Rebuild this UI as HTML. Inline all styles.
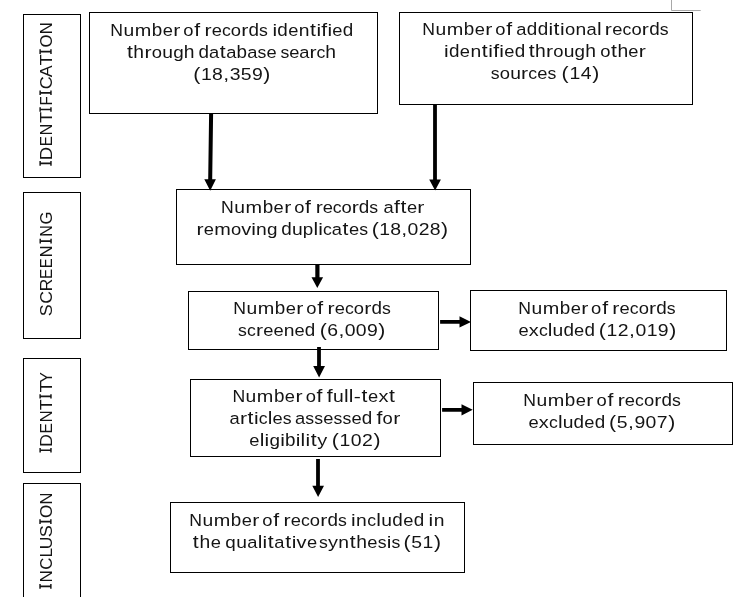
<!DOCTYPE html><html><head><meta charset="utf-8"><style>html,body{margin:0;padding:0;background:#fff;overflow:hidden}svg{display:block;will-change:transform}text{font-family:"Liberation Sans", sans-serif;font-size:17.0px;fill:#141414}</style></head><body>
<svg width="745" height="597" viewBox="0 0 745 597">
<rect width="745" height="597" fill="#fff"/>
<path d="M671.5 0V10.5H700.7" fill="none" stroke="#a8a8a8" stroke-width="1"/>
<rect x="89.5" y="12.5" width="288" height="101" fill="none" stroke="#000"/>
<rect x="399.5" y="12.5" width="293" height="92" fill="none" stroke="#000"/>
<rect x="176.5" y="189.5" width="294" height="75" fill="none" stroke="#000"/>
<rect x="188.5" y="291.5" width="250" height="58" fill="none" stroke="#000"/>
<rect x="470.5" y="290.5" width="256" height="60" fill="none" stroke="#000"/>
<rect x="190.5" y="379.5" width="250" height="77" fill="none" stroke="#000"/>
<rect x="473.5" y="382.5" width="259" height="62" fill="none" stroke="#000"/>
<rect x="170.5" y="502.5" width="294" height="70" fill="none" stroke="#000"/>
<rect x="23.5" y="14.5" width="57" height="163" fill="none" stroke="#000"/>
<rect x="23.5" y="192.5" width="57" height="146" fill="none" stroke="#000"/>
<rect x="23.5" y="358.5" width="57" height="114" fill="none" stroke="#000"/>
<rect x="23.5" y="483.5" width="57" height="127" fill="none" stroke="#000"/>
<polygon points="209.1,114 213.1,114 212.2,179.2 215.9,179.2 210.2,190.7 204.3,179.2 208.2,179.2"/>
<polygon points="433.1,105 436.9,105 436.9,179.5 440.9,179.5 435.1,190.4 429.2,179.5 433.1,179.5"/>
<polygon points="315.3,264.5 319.5,264.5 319.5,277.2 323.1,277.2 317.3,288 311.5,277.2 315.3,277.2"/>
<polygon points="317.1,347 320.9,347 320.9,366.1 325,366.1 319.1,377.5 313.2,366.1 317.1,366.1"/>
<polygon points="316.1,459.1 319.9,459.1 319.9,485.7 324,485.7 318.1,497 312.3,485.7 316.1,485.7"/>
<polygon points="440.1,320.1 459.5,320.1 459.5,316.2 471,322 459.5,327.6 459.5,323.7 440.1,323.7"/>
<polygon points="442.1,408.1 461.5,408.1 461.5,404.2 472.7,409.8 461.5,415.6 461.5,411.7 442.1,411.7"/>
<g id="w0_0"><text x="110.24" y="36.00" textLength="12.72" lengthAdjust="spacingAndGlyphs">N</text><text transform="matrix(1,0,0,1.02,0,36)" x="123.43" textLength="10.72" lengthAdjust="spacingAndGlyphs">u</text><text transform="matrix(1,0,0,1.02,0,36)" x="134.70" textLength="16.54" lengthAdjust="spacingAndGlyphs">m</text><text transform="matrix(1,0,0,1.06,0,36)" x="151.79" textLength="10.49" lengthAdjust="spacingAndGlyphs">b</text><text transform="matrix(1,0,0,1.02,0,36)" x="162.68" textLength="10.19" lengthAdjust="spacingAndGlyphs">e</text><text transform="matrix(1,0,0,1.02,0,36)" x="173.34" textLength="7.08" lengthAdjust="spacingAndGlyphs">r</text></g>
<g id="w0_1"><text transform="matrix(1,0,0,1.02,0,36)" x="183.27" textLength="10.23" lengthAdjust="spacingAndGlyphs">o</text><text transform="matrix(1,0,0,1.06,0,36)" x="194.32" textLength="5.90" lengthAdjust="spacingAndGlyphs">f</text></g>
<g id="w0_2"><text transform="matrix(1,0,0,1.02,0,36)" x="204.55" textLength="7.08" lengthAdjust="spacingAndGlyphs">r</text><text transform="matrix(1,0,0,1.02,0,36)" x="211.75" textLength="10.19" lengthAdjust="spacingAndGlyphs">e</text><text transform="matrix(1,0,0,1.02,0,36)" x="222.00" textLength="8.81" lengthAdjust="spacingAndGlyphs">c</text><text transform="matrix(1,0,0,1.02,0,36)" x="230.86" textLength="10.23" lengthAdjust="spacingAndGlyphs">o</text><text transform="matrix(1,0,0,1.02,0,36)" x="241.26" textLength="7.08" lengthAdjust="spacingAndGlyphs">r</text><text transform="matrix(1,0,0,1.06,0,36)" x="248.46" textLength="10.49" lengthAdjust="spacingAndGlyphs">d</text><text transform="matrix(1,0,0,1.02,0,36)" x="259.02" textLength="8.84" lengthAdjust="spacingAndGlyphs">s</text></g>
<g id="w0_3"><text transform="matrix(1,0,0,1.02,0,36)" x="272.52" textLength="4.64" lengthAdjust="spacingAndGlyphs">i</text><text transform="matrix(1,0,0,1.06,0,36)" x="277.38" textLength="10.49" lengthAdjust="spacingAndGlyphs">d</text><text transform="matrix(1,0,0,1.02,0,36)" x="288.18" textLength="10.19" lengthAdjust="spacingAndGlyphs">e</text><text transform="matrix(1,0,0,1.02,0,36)" x="298.67" textLength="10.72" lengthAdjust="spacingAndGlyphs">n</text><text transform="matrix(1,0,0,1.04,0,36)" x="310.06" textLength="5.90" lengthAdjust="spacingAndGlyphs">t</text><text transform="matrix(1,0,0,1.02,0,36)" x="316.52" textLength="4.64" lengthAdjust="spacingAndGlyphs">i</text><text transform="matrix(1,0,0,1.06,0,36)" x="321.36" textLength="5.90" lengthAdjust="spacingAndGlyphs">f</text><text transform="matrix(1,0,0,1.02,0,36)" x="327.44" textLength="4.64" lengthAdjust="spacingAndGlyphs">i</text><text transform="matrix(1,0,0,1.02,0,36)" x="332.30" textLength="10.19" lengthAdjust="spacingAndGlyphs">e</text><text transform="matrix(1,0,0,1.06,0,36)" x="342.78" textLength="10.49" lengthAdjust="spacingAndGlyphs">d</text></g>
<g id="w1_0"><text transform="matrix(1,0,0,1.04,0,58)" x="126.90" textLength="5.90" lengthAdjust="spacingAndGlyphs">t</text><text transform="matrix(1,0,0,1.06,0,58)" x="133.37" textLength="10.72" lengthAdjust="spacingAndGlyphs">h</text><text transform="matrix(1,0,0,1.02,0,58)" x="144.40" textLength="7.08" lengthAdjust="spacingAndGlyphs">r</text><text transform="matrix(1,0,0,1.02,0,58)" x="151.73" textLength="10.23" lengthAdjust="spacingAndGlyphs">o</text><text transform="matrix(1,0,0,1.02,0,58)" x="162.19" textLength="10.72" lengthAdjust="spacingAndGlyphs">u</text><text transform="matrix(1,0,0,1.02,0,58)" x="173.14" textLength="10.49" lengthAdjust="spacingAndGlyphs">g</text><text transform="matrix(1,0,0,1.06,0,58)" x="183.86" textLength="10.72" lengthAdjust="spacingAndGlyphs">h</text></g>
<g id="w1_1"><text transform="matrix(1,0,0,1.06,0,58)" x="198.45" textLength="10.49" lengthAdjust="spacingAndGlyphs">d</text><text transform="matrix(1,0,0,1.02,0,58)" x="209.12" textLength="10.19" lengthAdjust="spacingAndGlyphs">a</text><text transform="matrix(1,0,0,1.04,0,58)" x="219.84" textLength="5.90" lengthAdjust="spacingAndGlyphs">t</text><text transform="matrix(1,0,0,1.02,0,58)" x="226.27" textLength="10.19" lengthAdjust="spacingAndGlyphs">a</text><text transform="matrix(1,0,0,1.06,0,58)" x="236.61" textLength="10.49" lengthAdjust="spacingAndGlyphs">b</text><text transform="matrix(1,0,0,1.02,0,58)" x="247.27" textLength="10.19" lengthAdjust="spacingAndGlyphs">a</text><text transform="matrix(1,0,0,1.02,0,58)" x="257.60" textLength="8.84" lengthAdjust="spacingAndGlyphs">s</text><text transform="matrix(1,0,0,1.02,0,58)" x="266.59" textLength="10.19" lengthAdjust="spacingAndGlyphs">e</text></g>
<g id="w1_2"><text transform="matrix(1,0,0,1.02,0,58)" x="280.41" textLength="8.84" lengthAdjust="spacingAndGlyphs">s</text><text transform="matrix(1,0,0,1.02,0,58)" x="289.18" textLength="10.19" lengthAdjust="spacingAndGlyphs">e</text><text transform="matrix(1,0,0,1.02,0,58)" x="299.29" textLength="10.19" lengthAdjust="spacingAndGlyphs">a</text><text transform="matrix(1,0,0,1.02,0,58)" x="309.51" textLength="7.08" lengthAdjust="spacingAndGlyphs">r</text><text transform="matrix(1,0,0,1.02,0,58)" x="316.61" textLength="8.81" lengthAdjust="spacingAndGlyphs">c</text><text transform="matrix(1,0,0,1.06,0,58)" x="325.34" textLength="10.72" lengthAdjust="spacingAndGlyphs">h</text></g>
<g id="w2_0"><text transform="matrix(1,0,0,1.05,0,80)" x="193.36" textLength="7.08" lengthAdjust="spacingAndGlyphs">(</text><text x="200.98" y="80.00" textLength="10.81" lengthAdjust="spacingAndGlyphs">1</text><text x="212.13" y="80.00" textLength="10.81" lengthAdjust="spacingAndGlyphs">8</text><text x="223.36" y="80.00" textLength="5.90" lengthAdjust="spacingAndGlyphs">,</text><text x="229.68" y="80.00" textLength="10.81" lengthAdjust="spacingAndGlyphs">3</text><text x="240.84" y="80.00" textLength="10.81" lengthAdjust="spacingAndGlyphs">5</text><text x="252.00" y="80.00" textLength="10.81" lengthAdjust="spacingAndGlyphs">9</text><text transform="matrix(1,0,0,1.05,0,80)" x="263.34" textLength="7.08" lengthAdjust="spacingAndGlyphs">)</text></g>
<g id="w3_0"><text x="422.24" y="35.00" textLength="12.72" lengthAdjust="spacingAndGlyphs">N</text><text transform="matrix(1,0,0,1.02,0,35)" x="435.43" textLength="10.72" lengthAdjust="spacingAndGlyphs">u</text><text transform="matrix(1,0,0,1.02,0,35)" x="446.70" textLength="16.54" lengthAdjust="spacingAndGlyphs">m</text><text transform="matrix(1,0,0,1.06,0,35)" x="463.79" textLength="10.49" lengthAdjust="spacingAndGlyphs">b</text><text transform="matrix(1,0,0,1.02,0,35)" x="474.68" textLength="10.19" lengthAdjust="spacingAndGlyphs">e</text><text transform="matrix(1,0,0,1.02,0,35)" x="485.34" textLength="7.08" lengthAdjust="spacingAndGlyphs">r</text></g>
<g id="w3_1"><text transform="matrix(1,0,0,1.02,0,35)" x="495.27" textLength="10.23" lengthAdjust="spacingAndGlyphs">o</text><text transform="matrix(1,0,0,1.06,0,35)" x="506.32" textLength="5.90" lengthAdjust="spacingAndGlyphs">f</text></g>
<g id="w3_2"><text transform="matrix(1,0,0,1.02,0,35)" x="516.38" textLength="10.19" lengthAdjust="spacingAndGlyphs">a</text><text transform="matrix(1,0,0,1.06,0,35)" x="526.85" textLength="10.49" lengthAdjust="spacingAndGlyphs">d</text><text transform="matrix(1,0,0,1.06,0,35)" x="537.65" textLength="10.49" lengthAdjust="spacingAndGlyphs">d</text><text transform="matrix(1,0,0,1.02,0,35)" x="548.38" textLength="4.64" lengthAdjust="spacingAndGlyphs">i</text><text transform="matrix(1,0,0,1.04,0,35)" x="553.60" textLength="5.90" lengthAdjust="spacingAndGlyphs">t</text><text transform="matrix(1,0,0,1.02,0,35)" x="560.05" textLength="4.64" lengthAdjust="spacingAndGlyphs">i</text><text transform="matrix(1,0,0,1.02,0,35)" x="564.91" textLength="10.23" lengthAdjust="spacingAndGlyphs">o</text><text transform="matrix(1,0,0,1.02,0,35)" x="575.46" textLength="10.72" lengthAdjust="spacingAndGlyphs">n</text><text transform="matrix(1,0,0,1.02,0,35)" x="586.50" textLength="10.19" lengthAdjust="spacingAndGlyphs">a</text><text transform="matrix(1,0,0,1.06,0,35)" x="596.90" textLength="4.64" lengthAdjust="spacingAndGlyphs">l</text></g>
<g id="w3_3"><text transform="matrix(1,0,0,1.02,0,35)" x="604.87" textLength="7.08" lengthAdjust="spacingAndGlyphs">r</text><text transform="matrix(1,0,0,1.02,0,35)" x="612.13" textLength="10.19" lengthAdjust="spacingAndGlyphs">e</text><text transform="matrix(1,0,0,1.02,0,35)" x="622.46" textLength="8.81" lengthAdjust="spacingAndGlyphs">c</text><text transform="matrix(1,0,0,1.02,0,35)" x="631.40" textLength="10.23" lengthAdjust="spacingAndGlyphs">o</text><text transform="matrix(1,0,0,1.02,0,35)" x="641.87" textLength="7.08" lengthAdjust="spacingAndGlyphs">r</text><text transform="matrix(1,0,0,1.06,0,35)" x="649.14" textLength="10.49" lengthAdjust="spacingAndGlyphs">d</text><text transform="matrix(1,0,0,1.02,0,35)" x="659.77" textLength="8.84" lengthAdjust="spacingAndGlyphs">s</text></g>
<g id="w4_0"><text transform="matrix(1,0,0,1.02,0,57)" x="444.03" textLength="4.64" lengthAdjust="spacingAndGlyphs">i</text><text transform="matrix(1,0,0,1.06,0,57)" x="448.94" textLength="10.49" lengthAdjust="spacingAndGlyphs">d</text><text transform="matrix(1,0,0,1.02,0,57)" x="459.82" textLength="10.19" lengthAdjust="spacingAndGlyphs">e</text><text transform="matrix(1,0,0,1.02,0,57)" x="470.39" textLength="10.72" lengthAdjust="spacingAndGlyphs">n</text><text transform="matrix(1,0,0,1.04,0,57)" x="481.84" textLength="5.90" lengthAdjust="spacingAndGlyphs">t</text><text transform="matrix(1,0,0,1.02,0,57)" x="488.34" textLength="4.64" lengthAdjust="spacingAndGlyphs">i</text><text transform="matrix(1,0,0,1.06,0,57)" x="493.22" textLength="5.90" lengthAdjust="spacingAndGlyphs">f</text><text transform="matrix(1,0,0,1.02,0,57)" x="499.35" textLength="4.64" lengthAdjust="spacingAndGlyphs">i</text><text transform="matrix(1,0,0,1.02,0,57)" x="504.26" textLength="10.19" lengthAdjust="spacingAndGlyphs">e</text><text transform="matrix(1,0,0,1.06,0,57)" x="514.82" textLength="10.49" lengthAdjust="spacingAndGlyphs">d</text></g>
<g id="w4_1"><text transform="matrix(1,0,0,1.04,0,57)" x="528.68" textLength="5.90" lengthAdjust="spacingAndGlyphs">t</text><text transform="matrix(1,0,0,1.06,0,57)" x="535.10" textLength="10.72" lengthAdjust="spacingAndGlyphs">h</text><text transform="matrix(1,0,0,1.02,0,57)" x="546.06" textLength="7.08" lengthAdjust="spacingAndGlyphs">r</text><text transform="matrix(1,0,0,1.02,0,57)" x="553.32" textLength="10.23" lengthAdjust="spacingAndGlyphs">o</text><text transform="matrix(1,0,0,1.02,0,57)" x="563.70" textLength="10.72" lengthAdjust="spacingAndGlyphs">u</text><text transform="matrix(1,0,0,1.02,0,57)" x="574.58" textLength="10.49" lengthAdjust="spacingAndGlyphs">g</text><text transform="matrix(1,0,0,1.06,0,57)" x="585.22" textLength="10.72" lengthAdjust="spacingAndGlyphs">h</text></g>
<g id="w4_2"><text transform="matrix(1,0,0,1.02,0,57)" x="600.27" textLength="10.23" lengthAdjust="spacingAndGlyphs">o</text><text transform="matrix(1,0,0,1.04,0,57)" x="611.02" textLength="5.90" lengthAdjust="spacingAndGlyphs">t</text><text transform="matrix(1,0,0,1.06,0,57)" x="617.42" textLength="10.72" lengthAdjust="spacingAndGlyphs">h</text><text transform="matrix(1,0,0,1.02,0,57)" x="628.28" textLength="10.19" lengthAdjust="spacingAndGlyphs">e</text><text transform="matrix(1,0,0,1.02,0,57)" x="638.69" textLength="7.08" lengthAdjust="spacingAndGlyphs">r</text></g>
<g id="w5_0"><text transform="matrix(1,0,0,1.02,0,79)" x="490.85" textLength="8.84" lengthAdjust="spacingAndGlyphs">s</text><text transform="matrix(1,0,0,1.02,0,79)" x="499.81" textLength="10.23" lengthAdjust="spacingAndGlyphs">o</text><text transform="matrix(1,0,0,1.02,0,79)" x="510.17" textLength="10.72" lengthAdjust="spacingAndGlyphs">u</text><text transform="matrix(1,0,0,1.02,0,79)" x="521.11" textLength="7.08" lengthAdjust="spacingAndGlyphs">r</text><text transform="matrix(1,0,0,1.02,0,79)" x="528.35" textLength="8.81" lengthAdjust="spacingAndGlyphs">c</text><text transform="matrix(1,0,0,1.02,0,79)" x="537.27" textLength="10.19" lengthAdjust="spacingAndGlyphs">e</text><text transform="matrix(1,0,0,1.02,0,79)" x="547.57" textLength="8.84" lengthAdjust="spacingAndGlyphs">s</text></g>
<g id="w5_1"><text transform="matrix(1,0,0,1.05,0,79)" x="561.59" textLength="7.08" lengthAdjust="spacingAndGlyphs">(</text><text x="569.41" y="79.00" textLength="10.81" lengthAdjust="spacingAndGlyphs">1</text><text x="580.79" y="79.00" textLength="10.81" lengthAdjust="spacingAndGlyphs">4</text><text transform="matrix(1,0,0,1.05,0,79)" x="592.32" textLength="7.08" lengthAdjust="spacingAndGlyphs">)</text></g>
<g id="w6_0"><text x="221.06" y="213.00" textLength="12.72" lengthAdjust="spacingAndGlyphs">N</text><text transform="matrix(1,0,0,1.02,0,213)" x="234.27" textLength="10.72" lengthAdjust="spacingAndGlyphs">u</text><text transform="matrix(1,0,0,1.02,0,213)" x="245.56" textLength="16.54" lengthAdjust="spacingAndGlyphs">m</text><text transform="matrix(1,0,0,1.06,0,213)" x="262.67" textLength="10.49" lengthAdjust="spacingAndGlyphs">b</text><text transform="matrix(1,0,0,1.02,0,213)" x="273.58" textLength="10.19" lengthAdjust="spacingAndGlyphs">e</text><text transform="matrix(1,0,0,1.02,0,213)" x="284.25" textLength="7.08" lengthAdjust="spacingAndGlyphs">r</text></g>
<g id="w6_1"><text transform="matrix(1,0,0,1.02,0,213)" x="294.23" textLength="10.23" lengthAdjust="spacingAndGlyphs">o</text><text transform="matrix(1,0,0,1.06,0,213)" x="305.10" textLength="5.90" lengthAdjust="spacingAndGlyphs">f</text></g>
<g id="w6_2"><text transform="matrix(1,0,0,1.02,0,213)" x="315.66" textLength="7.08" lengthAdjust="spacingAndGlyphs">r</text><text transform="matrix(1,0,0,1.02,0,213)" x="322.73" textLength="10.19" lengthAdjust="spacingAndGlyphs">e</text><text transform="matrix(1,0,0,1.02,0,213)" x="332.83" textLength="8.81" lengthAdjust="spacingAndGlyphs">c</text><text transform="matrix(1,0,0,1.02,0,213)" x="341.55" textLength="10.23" lengthAdjust="spacingAndGlyphs">o</text><text transform="matrix(1,0,0,1.02,0,213)" x="351.80" textLength="7.08" lengthAdjust="spacingAndGlyphs">r</text><text transform="matrix(1,0,0,1.06,0,213)" x="358.87" textLength="10.49" lengthAdjust="spacingAndGlyphs">d</text><text transform="matrix(1,0,0,1.02,0,213)" x="369.28" textLength="8.84" lengthAdjust="spacingAndGlyphs">s</text></g>
<g id="w6_3"><text transform="matrix(1,0,0,1.02,0,213)" x="383.62" textLength="10.19" lengthAdjust="spacingAndGlyphs">a</text><text transform="matrix(1,0,0,1.06,0,213)" x="393.99" textLength="5.90" lengthAdjust="spacingAndGlyphs">f</text><text transform="matrix(1,0,0,1.04,0,213)" x="400.46" textLength="5.90" lengthAdjust="spacingAndGlyphs">t</text><text transform="matrix(1,0,0,1.02,0,213)" x="406.91" textLength="10.19" lengthAdjust="spacingAndGlyphs">e</text><text transform="matrix(1,0,0,1.02,0,213)" x="417.37" textLength="7.08" lengthAdjust="spacingAndGlyphs">r</text></g>
<g id="w7_0"><text transform="matrix(1,0,0,1.02,0,235)" x="196.54" textLength="7.08" lengthAdjust="spacingAndGlyphs">r</text><text transform="matrix(1,0,0,1.02,0,235)" x="203.80" textLength="10.19" lengthAdjust="spacingAndGlyphs">e</text><text transform="matrix(1,0,0,1.02,0,235)" x="214.18" textLength="16.54" lengthAdjust="spacingAndGlyphs">m</text><text transform="matrix(1,0,0,1.02,0,235)" x="230.90" textLength="10.23" lengthAdjust="spacingAndGlyphs">o</text><text transform="matrix(1,0,0,1.02,0,235)" x="241.28" textLength="9.98" lengthAdjust="spacingAndGlyphs">v</text><text transform="matrix(1,0,0,1.02,0,235)" x="251.36" textLength="4.64" lengthAdjust="spacingAndGlyphs">i</text><text transform="matrix(1,0,0,1.02,0,235)" x="256.10" textLength="10.72" lengthAdjust="spacingAndGlyphs">n</text><text transform="matrix(1,0,0,1.02,0,235)" x="266.97" textLength="10.49" lengthAdjust="spacingAndGlyphs">g</text></g>
<g id="w7_1"><text transform="matrix(1,0,0,1.06,0,235)" x="281.25" textLength="10.49" lengthAdjust="spacingAndGlyphs">d</text><text transform="matrix(1,0,0,1.02,0,235)" x="291.92" textLength="10.72" lengthAdjust="spacingAndGlyphs">u</text><text transform="matrix(1,0,0,1.02,0,235)" x="302.82" textLength="10.49" lengthAdjust="spacingAndGlyphs">p</text><text transform="matrix(1,0,0,1.06,0,235)" x="313.44" textLength="4.64" lengthAdjust="spacingAndGlyphs">l</text><text transform="matrix(1,0,0,1.02,0,235)" x="318.15" textLength="4.64" lengthAdjust="spacingAndGlyphs">i</text><text transform="matrix(1,0,0,1.02,0,235)" x="322.91" textLength="8.81" lengthAdjust="spacingAndGlyphs">c</text><text transform="matrix(1,0,0,1.02,0,235)" x="331.87" textLength="10.19" lengthAdjust="spacingAndGlyphs">a</text><text transform="matrix(1,0,0,1.04,0,235)" x="342.60" textLength="5.90" lengthAdjust="spacingAndGlyphs">t</text><text transform="matrix(1,0,0,1.02,0,235)" x="349.03" textLength="10.19" lengthAdjust="spacingAndGlyphs">e</text><text transform="matrix(1,0,0,1.02,0,235)" x="359.37" textLength="8.84" lengthAdjust="spacingAndGlyphs">s</text></g>
<g id="w7_2"><text transform="matrix(1,0,0,1.05,0,235)" x="371.71" textLength="7.08" lengthAdjust="spacingAndGlyphs">(</text><text x="379.23" y="235.00" textLength="10.81" lengthAdjust="spacingAndGlyphs">1</text><text x="390.26" y="235.00" textLength="10.81" lengthAdjust="spacingAndGlyphs">8</text><text x="401.38" y="235.00" textLength="5.90" lengthAdjust="spacingAndGlyphs">,</text><text x="407.61" y="235.00" textLength="10.81" lengthAdjust="spacingAndGlyphs">0</text><text x="418.65" y="235.00" textLength="10.81" lengthAdjust="spacingAndGlyphs">2</text><text x="429.68" y="235.00" textLength="10.81" lengthAdjust="spacingAndGlyphs">8</text><text transform="matrix(1,0,0,1.05,0,235)" x="440.93" textLength="7.08" lengthAdjust="spacingAndGlyphs">)</text></g>
<g id="w8_0"><text x="233.24" y="314.00" textLength="12.72" lengthAdjust="spacingAndGlyphs">N</text><text transform="matrix(1,0,0,1.02,0,314)" x="246.43" textLength="10.72" lengthAdjust="spacingAndGlyphs">u</text><text transform="matrix(1,0,0,1.02,0,314)" x="257.70" textLength="16.54" lengthAdjust="spacingAndGlyphs">m</text><text transform="matrix(1,0,0,1.06,0,314)" x="274.79" textLength="10.49" lengthAdjust="spacingAndGlyphs">b</text><text transform="matrix(1,0,0,1.02,0,314)" x="285.68" textLength="10.19" lengthAdjust="spacingAndGlyphs">e</text><text transform="matrix(1,0,0,1.02,0,314)" x="296.34" textLength="7.08" lengthAdjust="spacingAndGlyphs">r</text></g>
<g id="w8_1"><text transform="matrix(1,0,0,1.02,0,314)" x="306.27" textLength="10.23" lengthAdjust="spacingAndGlyphs">o</text><text transform="matrix(1,0,0,1.06,0,314)" x="317.32" textLength="5.90" lengthAdjust="spacingAndGlyphs">f</text></g>
<g id="w8_2"><text transform="matrix(1,0,0,1.02,0,314)" x="327.55" textLength="7.08" lengthAdjust="spacingAndGlyphs">r</text><text transform="matrix(1,0,0,1.02,0,314)" x="334.75" textLength="10.19" lengthAdjust="spacingAndGlyphs">e</text><text transform="matrix(1,0,0,1.02,0,314)" x="345.00" textLength="8.81" lengthAdjust="spacingAndGlyphs">c</text><text transform="matrix(1,0,0,1.02,0,314)" x="353.86" textLength="10.23" lengthAdjust="spacingAndGlyphs">o</text><text transform="matrix(1,0,0,1.02,0,314)" x="364.26" textLength="7.08" lengthAdjust="spacingAndGlyphs">r</text><text transform="matrix(1,0,0,1.06,0,314)" x="371.46" textLength="10.49" lengthAdjust="spacingAndGlyphs">d</text><text transform="matrix(1,0,0,1.02,0,314)" x="382.02" textLength="8.84" lengthAdjust="spacingAndGlyphs">s</text></g>
<g id="w9_0"><text transform="matrix(1,0,0,1.02,0,336)" x="238.12" textLength="8.84" lengthAdjust="spacingAndGlyphs">s</text><text transform="matrix(1,0,0,1.02,0,336)" x="247.03" textLength="8.81" lengthAdjust="spacingAndGlyphs">c</text><text transform="matrix(1,0,0,1.02,0,336)" x="256.01" textLength="7.08" lengthAdjust="spacingAndGlyphs">r</text><text transform="matrix(1,0,0,1.02,0,336)" x="263.23" textLength="10.19" lengthAdjust="spacingAndGlyphs">e</text><text transform="matrix(1,0,0,1.02,0,336)" x="273.49" textLength="10.19" lengthAdjust="spacingAndGlyphs">e</text><text transform="matrix(1,0,0,1.02,0,336)" x="283.76" textLength="10.72" lengthAdjust="spacingAndGlyphs">n</text><text transform="matrix(1,0,0,1.02,0,336)" x="294.57" textLength="10.19" lengthAdjust="spacingAndGlyphs">e</text><text transform="matrix(1,0,0,1.06,0,336)" x="304.84" textLength="10.49" lengthAdjust="spacingAndGlyphs">d</text></g>
<g id="w9_1"><text transform="matrix(1,0,0,1.05,0,336)" x="319.86" textLength="7.08" lengthAdjust="spacingAndGlyphs">(</text><text x="327.39" y="336.00" textLength="10.81" lengthAdjust="spacingAndGlyphs">6</text><text x="338.54" y="336.00" textLength="5.90" lengthAdjust="spacingAndGlyphs">,</text><text x="344.78" y="336.00" textLength="10.81" lengthAdjust="spacingAndGlyphs">0</text><text x="355.85" y="336.00" textLength="10.81" lengthAdjust="spacingAndGlyphs">0</text><text x="366.91" y="336.00" textLength="10.81" lengthAdjust="spacingAndGlyphs">9</text><text transform="matrix(1,0,0,1.05,0,336)" x="378.17" textLength="7.08" lengthAdjust="spacingAndGlyphs">)</text></g>
<g id="w10_0"><text x="518.31" y="314.00" textLength="12.72" lengthAdjust="spacingAndGlyphs">N</text><text transform="matrix(1,0,0,1.02,0,314)" x="531.48" textLength="10.72" lengthAdjust="spacingAndGlyphs">u</text><text transform="matrix(1,0,0,1.02,0,314)" x="542.74" textLength="16.54" lengthAdjust="spacingAndGlyphs">m</text><text transform="matrix(1,0,0,1.06,0,314)" x="559.81" textLength="10.49" lengthAdjust="spacingAndGlyphs">b</text><text transform="matrix(1,0,0,1.02,0,314)" x="570.70" textLength="10.19" lengthAdjust="spacingAndGlyphs">e</text><text transform="matrix(1,0,0,1.02,0,314)" x="581.35" textLength="7.08" lengthAdjust="spacingAndGlyphs">r</text></g>
<g id="w10_1"><text transform="matrix(1,0,0,1.02,0,314)" x="591.13" textLength="10.23" lengthAdjust="spacingAndGlyphs">o</text><text transform="matrix(1,0,0,1.06,0,314)" x="602.17" textLength="5.90" lengthAdjust="spacingAndGlyphs">f</text></g>
<g id="w10_2"><text transform="matrix(1,0,0,1.02,0,314)" x="612.39" textLength="7.08" lengthAdjust="spacingAndGlyphs">r</text><text transform="matrix(1,0,0,1.02,0,314)" x="619.58" textLength="10.19" lengthAdjust="spacingAndGlyphs">e</text><text transform="matrix(1,0,0,1.02,0,314)" x="629.81" textLength="8.81" lengthAdjust="spacingAndGlyphs">c</text><text transform="matrix(1,0,0,1.02,0,314)" x="638.66" textLength="10.23" lengthAdjust="spacingAndGlyphs">o</text><text transform="matrix(1,0,0,1.02,0,314)" x="649.04" textLength="7.08" lengthAdjust="spacingAndGlyphs">r</text><text transform="matrix(1,0,0,1.06,0,314)" x="656.23" textLength="10.49" lengthAdjust="spacingAndGlyphs">d</text><text transform="matrix(1,0,0,1.02,0,314)" x="666.76" textLength="8.84" lengthAdjust="spacingAndGlyphs">s</text></g>
<g id="w11_0"><text transform="matrix(1,0,0,1.02,0,336)" x="518.49" textLength="10.19" lengthAdjust="spacingAndGlyphs">e</text><text transform="matrix(1,0,0,1.02,0,336)" x="528.82" textLength="9.98" lengthAdjust="spacingAndGlyphs">x</text><text transform="matrix(1,0,0,1.02,0,336)" x="538.94" textLength="8.81" lengthAdjust="spacingAndGlyphs">c</text><text transform="matrix(1,0,0,1.06,0,336)" x="547.84" textLength="4.64" lengthAdjust="spacingAndGlyphs">l</text><text transform="matrix(1,0,0,1.02,0,336)" x="552.59" textLength="10.72" lengthAdjust="spacingAndGlyphs">u</text><text transform="matrix(1,0,0,1.06,0,336)" x="563.46" textLength="10.49" lengthAdjust="spacingAndGlyphs">d</text><text transform="matrix(1,0,0,1.02,0,336)" x="574.11" textLength="10.19" lengthAdjust="spacingAndGlyphs">e</text><text transform="matrix(1,0,0,1.06,0,336)" x="584.44" textLength="10.49" lengthAdjust="spacingAndGlyphs">d</text></g>
<g id="w11_1"><text transform="matrix(1,0,0,1.05,0,336)" x="598.86" textLength="7.08" lengthAdjust="spacingAndGlyphs">(</text><text x="606.54" y="336.00" textLength="10.81" lengthAdjust="spacingAndGlyphs">1</text><text x="617.76" y="336.00" textLength="10.81" lengthAdjust="spacingAndGlyphs">2</text><text x="629.04" y="336.00" textLength="5.90" lengthAdjust="spacingAndGlyphs">,</text><text x="635.42" y="336.00" textLength="10.81" lengthAdjust="spacingAndGlyphs">0</text><text x="646.67" y="336.00" textLength="10.81" lengthAdjust="spacingAndGlyphs">1</text><text x="657.89" y="336.00" textLength="10.81" lengthAdjust="spacingAndGlyphs">9</text><text transform="matrix(1,0,0,1.05,0,336)" x="669.29" textLength="7.08" lengthAdjust="spacingAndGlyphs">)</text></g>
<g id="w12_0"><text x="232.48" y="402.00" textLength="12.72" lengthAdjust="spacingAndGlyphs">N</text><text transform="matrix(1,0,0,1.02,0,402)" x="245.63" textLength="10.72" lengthAdjust="spacingAndGlyphs">u</text><text transform="matrix(1,0,0,1.02,0,402)" x="256.86" textLength="16.54" lengthAdjust="spacingAndGlyphs">m</text><text transform="matrix(1,0,0,1.06,0,402)" x="273.91" textLength="10.49" lengthAdjust="spacingAndGlyphs">b</text><text transform="matrix(1,0,0,1.02,0,402)" x="284.78" textLength="10.19" lengthAdjust="spacingAndGlyphs">e</text><text transform="matrix(1,0,0,1.02,0,402)" x="295.41" textLength="7.08" lengthAdjust="spacingAndGlyphs">r</text></g>
<g id="w12_1"><text transform="matrix(1,0,0,1.02,0,402)" x="305.65" textLength="10.23" lengthAdjust="spacingAndGlyphs">o</text><text transform="matrix(1,0,0,1.06,0,402)" x="316.60" textLength="5.90" lengthAdjust="spacingAndGlyphs">f</text></g>
<g id="w12_2"><text transform="matrix(1,0,0,1.06,0,402)" x="326.87" textLength="5.90" lengthAdjust="spacingAndGlyphs">f</text><text transform="matrix(1,0,0,1.02,0,402)" x="333.05" textLength="10.72" lengthAdjust="spacingAndGlyphs">u</text><text transform="matrix(1,0,0,1.06,0,402)" x="344.00" textLength="4.64" lengthAdjust="spacingAndGlyphs">l</text><text transform="matrix(1,0,0,1.06,0,402)" x="348.77" textLength="4.64" lengthAdjust="spacingAndGlyphs">l</text><text x="353.69" y="402.00" textLength="7.08" lengthAdjust="spacingAndGlyphs">-</text><text transform="matrix(1,0,0,1.04,0,402)" x="361.49" textLength="5.90" lengthAdjust="spacingAndGlyphs">t</text><text transform="matrix(1,0,0,1.02,0,402)" x="368.02" textLength="10.19" lengthAdjust="spacingAndGlyphs">e</text><text transform="matrix(1,0,0,1.02,0,402)" x="378.49" textLength="9.98" lengthAdjust="spacingAndGlyphs">x</text><text transform="matrix(1,0,0,1.04,0,402)" x="389.12" textLength="5.90" lengthAdjust="spacingAndGlyphs">t</text></g>
<g id="w13_0"><text transform="matrix(1,0,0,1.02,0,424)" x="229.46" textLength="10.19" lengthAdjust="spacingAndGlyphs">a</text><text transform="matrix(1,0,0,1.02,0,424)" x="239.90" textLength="7.08" lengthAdjust="spacingAndGlyphs">r</text><text transform="matrix(1,0,0,1.04,0,424)" x="247.58" textLength="5.90" lengthAdjust="spacingAndGlyphs">t</text><text transform="matrix(1,0,0,1.02,0,424)" x="253.96" textLength="4.64" lengthAdjust="spacingAndGlyphs">i</text><text transform="matrix(1,0,0,1.02,0,424)" x="258.72" textLength="8.81" lengthAdjust="spacingAndGlyphs">c</text><text transform="matrix(1,0,0,1.06,0,424)" x="267.64" textLength="4.64" lengthAdjust="spacingAndGlyphs">l</text><text transform="matrix(1,0,0,1.02,0,424)" x="272.41" textLength="10.19" lengthAdjust="spacingAndGlyphs">e</text><text transform="matrix(1,0,0,1.02,0,424)" x="282.76" textLength="8.84" lengthAdjust="spacingAndGlyphs">s</text></g>
<g id="w13_1"><text transform="matrix(1,0,0,1.02,0,424)" x="295.09" textLength="10.19" lengthAdjust="spacingAndGlyphs">a</text><text transform="matrix(1,0,0,1.02,0,424)" x="305.38" textLength="8.84" lengthAdjust="spacingAndGlyphs">s</text><text transform="matrix(1,0,0,1.02,0,424)" x="314.33" textLength="8.84" lengthAdjust="spacingAndGlyphs">s</text><text transform="matrix(1,0,0,1.02,0,424)" x="323.28" textLength="10.19" lengthAdjust="spacingAndGlyphs">e</text><text transform="matrix(1,0,0,1.02,0,424)" x="333.57" textLength="8.84" lengthAdjust="spacingAndGlyphs">s</text><text transform="matrix(1,0,0,1.02,0,424)" x="342.52" textLength="8.84" lengthAdjust="spacingAndGlyphs">s</text><text transform="matrix(1,0,0,1.02,0,424)" x="351.47" textLength="10.19" lengthAdjust="spacingAndGlyphs">e</text><text transform="matrix(1,0,0,1.06,0,424)" x="361.77" textLength="10.49" lengthAdjust="spacingAndGlyphs">d</text></g>
<g id="w13_2"><text transform="matrix(1,0,0,1.06,0,424)" x="376.48" textLength="5.90" lengthAdjust="spacingAndGlyphs">f</text><text transform="matrix(1,0,0,1.02,0,424)" x="382.62" textLength="10.23" lengthAdjust="spacingAndGlyphs">o</text><text transform="matrix(1,0,0,1.02,0,424)" x="393.20" textLength="7.08" lengthAdjust="spacingAndGlyphs">r</text></g>
<g id="w14_0"><text transform="matrix(1,0,0,1.02,0,446)" x="249.31" textLength="10.19" lengthAdjust="spacingAndGlyphs">e</text><text transform="matrix(1,0,0,1.06,0,446)" x="259.74" textLength="4.64" lengthAdjust="spacingAndGlyphs">l</text><text transform="matrix(1,0,0,1.02,0,446)" x="264.54" textLength="4.64" lengthAdjust="spacingAndGlyphs">i</text><text transform="matrix(1,0,0,1.02,0,446)" x="269.42" textLength="10.49" lengthAdjust="spacingAndGlyphs">g</text><text transform="matrix(1,0,0,1.02,0,446)" x="280.17" textLength="4.64" lengthAdjust="spacingAndGlyphs">i</text><text transform="matrix(1,0,0,1.06,0,446)" x="285.07" textLength="10.49" lengthAdjust="spacingAndGlyphs">b</text><text transform="matrix(1,0,0,1.02,0,446)" x="295.81" textLength="4.64" lengthAdjust="spacingAndGlyphs">i</text><text transform="matrix(1,0,0,1.06,0,446)" x="300.61" textLength="4.64" lengthAdjust="spacingAndGlyphs">l</text><text transform="matrix(1,0,0,1.02,0,446)" x="305.40" textLength="4.64" lengthAdjust="spacingAndGlyphs">i</text><text transform="matrix(1,0,0,1.04,0,446)" x="310.64" textLength="5.90" lengthAdjust="spacingAndGlyphs">t</text><text transform="matrix(1,0,0,1.02,0,446)" x="317.21" textLength="9.98" lengthAdjust="spacingAndGlyphs">y</text></g>
<g id="w14_1"><text transform="matrix(1,0,0,1.05,0,446)" x="331.70" textLength="7.08" lengthAdjust="spacingAndGlyphs">(</text><text x="339.42" y="446.00" textLength="10.81" lengthAdjust="spacingAndGlyphs">1</text><text x="350.70" y="446.00" textLength="10.81" lengthAdjust="spacingAndGlyphs">0</text><text x="361.98" y="446.00" textLength="10.81" lengthAdjust="spacingAndGlyphs">2</text><text transform="matrix(1,0,0,1.05,0,446)" x="373.43" textLength="7.08" lengthAdjust="spacingAndGlyphs">)</text></g>
<g id="w15_0"><text x="523.36" y="406.00" textLength="12.72" lengthAdjust="spacingAndGlyphs">N</text><text transform="matrix(1,0,0,1.02,0,406)" x="536.53" textLength="10.72" lengthAdjust="spacingAndGlyphs">u</text><text transform="matrix(1,0,0,1.02,0,406)" x="547.78" textLength="16.54" lengthAdjust="spacingAndGlyphs">m</text><text transform="matrix(1,0,0,1.06,0,406)" x="564.85" textLength="10.49" lengthAdjust="spacingAndGlyphs">b</text><text transform="matrix(1,0,0,1.02,0,406)" x="575.73" textLength="10.19" lengthAdjust="spacingAndGlyphs">e</text><text transform="matrix(1,0,0,1.02,0,406)" x="586.38" textLength="7.08" lengthAdjust="spacingAndGlyphs">r</text></g>
<g id="w15_1"><text transform="matrix(1,0,0,1.02,0,406)" x="596.48" textLength="10.23" lengthAdjust="spacingAndGlyphs">o</text><text transform="matrix(1,0,0,1.06,0,406)" x="607.50" textLength="5.90" lengthAdjust="spacingAndGlyphs">f</text></g>
<g id="w15_2"><text transform="matrix(1,0,0,1.02,0,406)" x="617.64" textLength="7.08" lengthAdjust="spacingAndGlyphs">r</text><text transform="matrix(1,0,0,1.02,0,406)" x="624.83" textLength="10.19" lengthAdjust="spacingAndGlyphs">e</text><text transform="matrix(1,0,0,1.02,0,406)" x="635.05" textLength="8.81" lengthAdjust="spacingAndGlyphs">c</text><text transform="matrix(1,0,0,1.02,0,406)" x="643.90" textLength="10.23" lengthAdjust="spacingAndGlyphs">o</text><text transform="matrix(1,0,0,1.02,0,406)" x="654.28" textLength="7.08" lengthAdjust="spacingAndGlyphs">r</text><text transform="matrix(1,0,0,1.06,0,406)" x="661.47" textLength="10.49" lengthAdjust="spacingAndGlyphs">d</text><text transform="matrix(1,0,0,1.02,0,406)" x="672.00" textLength="8.84" lengthAdjust="spacingAndGlyphs">s</text></g>
<g id="w16_0"><text transform="matrix(1,0,0,1.02,0,428)" x="528.51" textLength="10.19" lengthAdjust="spacingAndGlyphs">e</text><text transform="matrix(1,0,0,1.02,0,428)" x="538.87" textLength="9.98" lengthAdjust="spacingAndGlyphs">x</text><text transform="matrix(1,0,0,1.02,0,428)" x="549.01" textLength="8.81" lengthAdjust="spacingAndGlyphs">c</text><text transform="matrix(1,0,0,1.06,0,428)" x="557.94" textLength="4.64" lengthAdjust="spacingAndGlyphs">l</text><text transform="matrix(1,0,0,1.02,0,428)" x="562.71" textLength="10.72" lengthAdjust="spacingAndGlyphs">u</text><text transform="matrix(1,0,0,1.06,0,428)" x="573.61" textLength="10.49" lengthAdjust="spacingAndGlyphs">d</text><text transform="matrix(1,0,0,1.02,0,428)" x="584.28" textLength="10.19" lengthAdjust="spacingAndGlyphs">e</text><text transform="matrix(1,0,0,1.06,0,428)" x="594.64" textLength="10.49" lengthAdjust="spacingAndGlyphs">d</text></g>
<g id="w16_1"><text transform="matrix(1,0,0,1.05,0,428)" x="609.07" textLength="7.08" lengthAdjust="spacingAndGlyphs">(</text><text x="616.74" y="428.00" textLength="10.81" lengthAdjust="spacingAndGlyphs">5</text><text x="628.02" y="428.00" textLength="5.90" lengthAdjust="spacingAndGlyphs">,</text><text x="634.40" y="428.00" textLength="10.81" lengthAdjust="spacingAndGlyphs">9</text><text x="645.64" y="428.00" textLength="10.81" lengthAdjust="spacingAndGlyphs">0</text><text x="656.88" y="428.00" textLength="10.81" lengthAdjust="spacingAndGlyphs">7</text><text transform="matrix(1,0,0,1.05,0,428)" x="668.28" textLength="7.08" lengthAdjust="spacingAndGlyphs">)</text></g>
<g id="w17_0"><text x="189.24" y="526.00" textLength="12.72" lengthAdjust="spacingAndGlyphs">N</text><text transform="matrix(1,0,0,1.02,0,526)" x="202.43" textLength="10.72" lengthAdjust="spacingAndGlyphs">u</text><text transform="matrix(1,0,0,1.02,0,526)" x="213.70" textLength="16.54" lengthAdjust="spacingAndGlyphs">m</text><text transform="matrix(1,0,0,1.06,0,526)" x="230.79" textLength="10.49" lengthAdjust="spacingAndGlyphs">b</text><text transform="matrix(1,0,0,1.02,0,526)" x="241.68" textLength="10.19" lengthAdjust="spacingAndGlyphs">e</text><text transform="matrix(1,0,0,1.02,0,526)" x="252.34" textLength="7.08" lengthAdjust="spacingAndGlyphs">r</text></g>
<g id="w17_1"><text transform="matrix(1,0,0,1.02,0,526)" x="262.27" textLength="10.23" lengthAdjust="spacingAndGlyphs">o</text><text transform="matrix(1,0,0,1.06,0,526)" x="273.32" textLength="5.90" lengthAdjust="spacingAndGlyphs">f</text></g>
<g id="w17_2"><text transform="matrix(1,0,0,1.02,0,526)" x="283.55" textLength="7.08" lengthAdjust="spacingAndGlyphs">r</text><text transform="matrix(1,0,0,1.02,0,526)" x="290.75" textLength="10.19" lengthAdjust="spacingAndGlyphs">e</text><text transform="matrix(1,0,0,1.02,0,526)" x="301.00" textLength="8.81" lengthAdjust="spacingAndGlyphs">c</text><text transform="matrix(1,0,0,1.02,0,526)" x="309.86" textLength="10.23" lengthAdjust="spacingAndGlyphs">o</text><text transform="matrix(1,0,0,1.02,0,526)" x="320.26" textLength="7.08" lengthAdjust="spacingAndGlyphs">r</text><text transform="matrix(1,0,0,1.06,0,526)" x="327.46" textLength="10.49" lengthAdjust="spacingAndGlyphs">d</text><text transform="matrix(1,0,0,1.02,0,526)" x="338.02" textLength="8.84" lengthAdjust="spacingAndGlyphs">s</text></g>
<g id="w17_3"><text transform="matrix(1,0,0,1.02,0,526)" x="351.11" textLength="4.64" lengthAdjust="spacingAndGlyphs">i</text><text transform="matrix(1,0,0,1.02,0,526)" x="356.06" textLength="10.72" lengthAdjust="spacingAndGlyphs">n</text><text transform="matrix(1,0,0,1.02,0,526)" x="367.18" textLength="8.81" lengthAdjust="spacingAndGlyphs">c</text><text transform="matrix(1,0,0,1.06,0,526)" x="376.26" textLength="4.64" lengthAdjust="spacingAndGlyphs">l</text><text transform="matrix(1,0,0,1.02,0,526)" x="381.21" textLength="10.72" lengthAdjust="spacingAndGlyphs">u</text><text transform="matrix(1,0,0,1.06,0,526)" x="392.35" textLength="10.49" lengthAdjust="spacingAndGlyphs">d</text><text transform="matrix(1,0,0,1.02,0,526)" x="403.27" textLength="10.19" lengthAdjust="spacingAndGlyphs">e</text><text transform="matrix(1,0,0,1.06,0,526)" x="413.86" textLength="10.49" lengthAdjust="spacingAndGlyphs">d</text></g>
<g id="w17_4"><text transform="matrix(1,0,0,1.02,0,526)" x="428.43" textLength="4.64" lengthAdjust="spacingAndGlyphs">i</text><text transform="matrix(1,0,0,1.02,0,526)" x="433.81" textLength="10.72" lengthAdjust="spacingAndGlyphs">n</text></g>
<g id="w18_0"><text transform="matrix(1,0,0,1.04,0,548)" x="192.66" textLength="5.90" lengthAdjust="spacingAndGlyphs">t</text><text transform="matrix(1,0,0,1.06,0,548)" x="199.47" textLength="10.72" lengthAdjust="spacingAndGlyphs">h</text><text transform="matrix(1,0,0,1.02,0,548)" x="210.81" textLength="10.19" lengthAdjust="spacingAndGlyphs">e</text></g>
<g id="w18_1"><text transform="matrix(1,0,0,1.02,0,548)" x="225.36" textLength="10.49" lengthAdjust="spacingAndGlyphs">q</text><text transform="matrix(1,0,0,1.02,0,548)" x="236.21" textLength="10.72" lengthAdjust="spacingAndGlyphs">u</text><text transform="matrix(1,0,0,1.02,0,548)" x="247.30" textLength="10.19" lengthAdjust="spacingAndGlyphs">a</text><text transform="matrix(1,0,0,1.06,0,548)" x="257.72" textLength="4.64" lengthAdjust="spacingAndGlyphs">l</text><text transform="matrix(1,0,0,1.02,0,548)" x="262.52" textLength="4.64" lengthAdjust="spacingAndGlyphs">i</text><text transform="matrix(1,0,0,1.04,0,548)" x="267.76" textLength="5.90" lengthAdjust="spacingAndGlyphs">t</text><text transform="matrix(1,0,0,1.02,0,548)" x="274.35" textLength="10.19" lengthAdjust="spacingAndGlyphs">a</text><text transform="matrix(1,0,0,1.04,0,548)" x="285.22" textLength="5.90" lengthAdjust="spacingAndGlyphs">t</text><text transform="matrix(1,0,0,1.02,0,548)" x="291.69" textLength="4.64" lengthAdjust="spacingAndGlyphs">i</text><text transform="matrix(1,0,0,1.02,0,548)" x="296.58" textLength="9.98" lengthAdjust="spacingAndGlyphs">v</text><text transform="matrix(1,0,0,1.02,0,548)" x="306.90" textLength="10.19" lengthAdjust="spacingAndGlyphs">e</text></g>
<g id="w18_2"><text transform="matrix(1,0,0,1.02,0,548)" x="318.90" textLength="8.84" lengthAdjust="spacingAndGlyphs">s</text><text transform="matrix(1,0,0,1.02,0,548)" x="328.01" textLength="9.98" lengthAdjust="spacingAndGlyphs">y</text><text transform="matrix(1,0,0,1.02,0,548)" x="338.28" textLength="10.72" lengthAdjust="spacingAndGlyphs">n</text><text transform="matrix(1,0,0,1.04,0,548)" x="349.67" textLength="5.90" lengthAdjust="spacingAndGlyphs">t</text><text transform="matrix(1,0,0,1.06,0,548)" x="356.20" textLength="10.72" lengthAdjust="spacingAndGlyphs">h</text><text transform="matrix(1,0,0,1.02,0,548)" x="367.22" textLength="10.19" lengthAdjust="spacingAndGlyphs">e</text><text transform="matrix(1,0,0,1.02,0,548)" x="377.68" textLength="8.84" lengthAdjust="spacingAndGlyphs">s</text><text transform="matrix(1,0,0,1.02,0,548)" x="386.71" textLength="4.64" lengthAdjust="spacingAndGlyphs">i</text><text transform="matrix(1,0,0,1.02,0,548)" x="391.54" textLength="8.84" lengthAdjust="spacingAndGlyphs">s</text></g>
<g id="w18_3"><text transform="matrix(1,0,0,1.05,0,548)" x="403.49" textLength="7.08" lengthAdjust="spacingAndGlyphs">(</text><text x="411.25" y="548.00" textLength="10.81" lengthAdjust="spacingAndGlyphs">5</text><text x="422.62" y="548.00" textLength="10.81" lengthAdjust="spacingAndGlyphs">1</text><text transform="matrix(1,0,0,1.05,0,548)" x="434.10" textLength="7.08" lengthAdjust="spacingAndGlyphs">)</text></g>
<text id="r0_0" transform="translate(51.70,34.25) rotate(-90)" textLength="11.99" lengthAdjust="spacingAndGlyphs">N</text>
<text id="r0_1" transform="translate(51.70,47.41) rotate(-90)" textLength="13.02" lengthAdjust="spacingAndGlyphs">O</text>
<path fill="#141414" d="M39.40 50.85H51.70V52.45H39.40Z M39.40 49.30H40.85V54.00H39.40Z M50.25 49.30H51.70V54.00H50.25Z"/>
<text id="r0_3" transform="translate(51.70,65.42) rotate(-90)" textLength="11.11" lengthAdjust="spacingAndGlyphs">T</text>
<text id="r0_4" transform="translate(51.70,77.14) rotate(-90)" textLength="11.90" lengthAdjust="spacingAndGlyphs">A</text>
<text id="r0_5" transform="translate(51.70,89.37) rotate(-90)" textLength="12.95" lengthAdjust="spacingAndGlyphs">C</text>
<path fill="#141414" d="M39.40 92.05H51.70V93.65H39.40Z M39.40 90.60H40.85V95.10H39.40Z M50.25 90.60H51.70V95.10H50.25Z"/>
<text id="r0_7" transform="translate(51.70,105.39) rotate(-90)" textLength="9.16" lengthAdjust="spacingAndGlyphs">F</text>
<path fill="#141414" d="M39.40 108.70H51.70V110.30H39.40Z M39.40 107.20H40.85V111.80H39.40Z M50.25 107.20H51.70V111.80H50.25Z"/>
<text id="r0_9" transform="translate(51.70,122.90) rotate(-90)" textLength="11.09" lengthAdjust="spacingAndGlyphs">T</text>
<text id="r0_10" transform="translate(51.70,135.31) rotate(-90)" textLength="11.45" lengthAdjust="spacingAndGlyphs">N</text>
<text id="r0_11" transform="translate(51.70,146.36) rotate(-90)" textLength="10.20" lengthAdjust="spacingAndGlyphs">E</text>
<text id="r0_12" transform="translate(51.70,160.22) rotate(-90)" textLength="13.48" lengthAdjust="spacingAndGlyphs">D</text>
<path fill="#141414" d="M39.40 162.60H51.70V164.20H39.40Z M39.40 161.00H40.85V165.80H39.40Z M50.25 161.00H51.70V165.80H50.25Z"/>
<text id="r1_0" transform="translate(51.80,224.45) rotate(-90)" textLength="12.87" lengthAdjust="spacingAndGlyphs">G</text>
<text id="r1_1" transform="translate(51.80,236.81) rotate(-90)" textLength="11.55" lengthAdjust="spacingAndGlyphs">N</text>
<path fill="#141414" d="M39.50 240.35H51.80V241.95H39.50Z M39.50 238.70H40.95V243.60H39.50Z M50.35 238.70H51.80V243.60H50.35Z"/>
<text id="r1_3" transform="translate(51.80,257.13) rotate(-90)" textLength="11.79" lengthAdjust="spacingAndGlyphs">N</text>
<text id="r1_4" transform="translate(51.80,268.21) rotate(-90)" textLength="9.99" lengthAdjust="spacingAndGlyphs">E</text>
<text id="r1_5" transform="translate(51.80,278.98) rotate(-90)" textLength="10.11" lengthAdjust="spacingAndGlyphs">E</text>
<text id="r1_6" transform="translate(51.80,291.61) rotate(-90)" textLength="12.94" lengthAdjust="spacingAndGlyphs">R</text>
<text id="r1_7" transform="translate(51.80,303.80) rotate(-90)" textLength="12.67" lengthAdjust="spacingAndGlyphs">C</text>
<text id="r1_8" transform="translate(51.80,316.26) rotate(-90)" textLength="11.90" lengthAdjust="spacingAndGlyphs">S</text>
<text id="r2_0" transform="translate(51.70,382.75) rotate(-90)" textLength="10.64" lengthAdjust="spacingAndGlyphs">Y</text>
<text id="r2_1" transform="translate(51.70,392.59) rotate(-90)" textLength="11.25" lengthAdjust="spacingAndGlyphs">T</text>
<path fill="#141414" d="M39.40 395.60H51.70V397.20H39.40Z M39.40 394.20H40.85V398.60H39.40Z M50.25 394.20H51.70V398.60H50.25Z"/>
<text id="r2_3" transform="translate(51.70,410.20) rotate(-90)" textLength="10.83" lengthAdjust="spacingAndGlyphs">T</text>
<text id="r2_4" transform="translate(51.70,422.46) rotate(-90)" textLength="12.24" lengthAdjust="spacingAndGlyphs">N</text>
<text id="r2_5" transform="translate(51.70,433.45) rotate(-90)" textLength="10.48" lengthAdjust="spacingAndGlyphs">E</text>
<text id="r2_6" transform="translate(51.70,446.96) rotate(-90)" textLength="12.93" lengthAdjust="spacingAndGlyphs">D</text>
<path fill="#141414" d="M39.40 449.45H51.70V451.05H39.40Z M39.40 447.90H40.85V452.60H39.40Z M50.25 447.90H51.70V452.60H50.25Z"/>
<text id="r3_0" transform="translate(51.60,504.51) rotate(-90)" textLength="11.84" lengthAdjust="spacingAndGlyphs">N</text>
<text id="r3_1" transform="translate(51.60,517.97) rotate(-90)" textLength="13.24" lengthAdjust="spacingAndGlyphs">O</text>
<path fill="#141414" d="M39.30 520.85H51.60V522.45H39.30Z M39.30 519.30H40.75V524.00H39.30Z M50.15 519.30H51.60V524.00H50.15Z"/>
<text id="r3_3" transform="translate(51.60,537.16) rotate(-90)" textLength="12.15" lengthAdjust="spacingAndGlyphs">S</text>
<text id="r3_4" transform="translate(51.60,549.13) rotate(-90)" textLength="12.68" lengthAdjust="spacingAndGlyphs">U</text>
<text id="r3_5" transform="translate(51.60,557.62) rotate(-90)" textLength="9.58" lengthAdjust="spacingAndGlyphs">L</text>
<text id="r3_6" transform="translate(51.60,569.69) rotate(-90)" textLength="12.12" lengthAdjust="spacingAndGlyphs">C</text>
<text id="r3_7" transform="translate(51.60,582.54) rotate(-90)" textLength="12.32" lengthAdjust="spacingAndGlyphs">N</text>
<path fill="#141414" d="M39.30 585.60H51.60V587.20H39.30Z M39.30 584.00H40.75V588.80H39.30Z M50.15 584.00H51.60V588.80H50.15Z"/>
</svg></body></html>
